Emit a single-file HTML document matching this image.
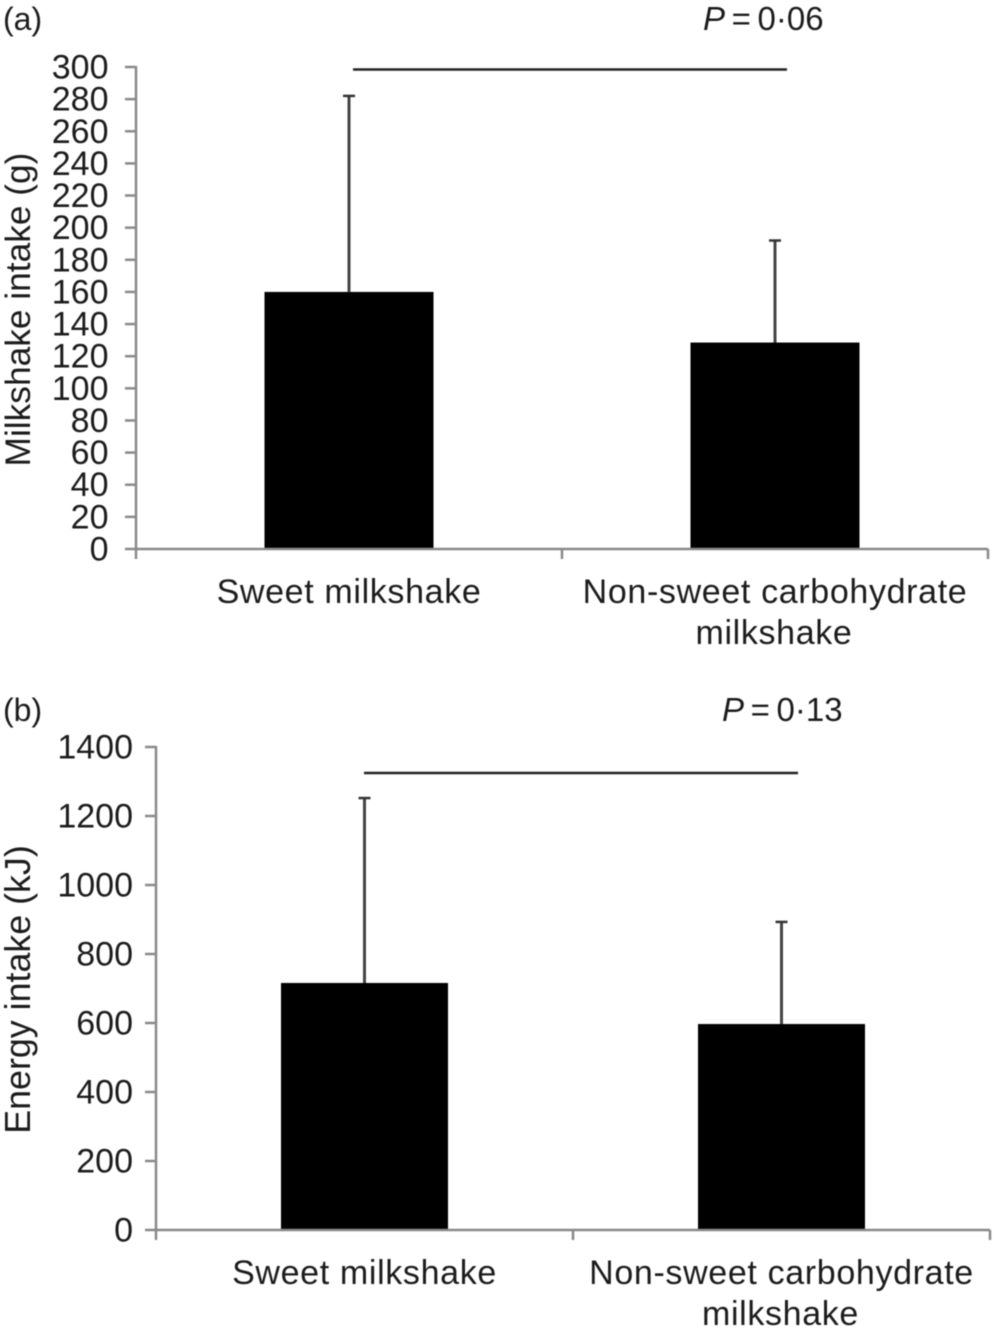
<!DOCTYPE html>
<html lang="en">
<head>
<meta charset="utf-8">
<title>Milkshake and energy intake</title>
<style>
html,body{margin:0;padding:0;background:#fff;width:996px;height:1329px;overflow:hidden}
svg{display:block;filter:blur(0.55px)}
text{font-family:"Liberation Sans",sans-serif;fill:#1c1c1c}
</style>
</head>
<body>
<svg id="figure" width="996" height="1329" viewBox="0 0 996 1329" xmlns="http://www.w3.org/2000/svg"></svg>
<script>
const categoryFirstLines = ['Sweet milkshake', 'Non-sweet carbohydrate'];
const categorySecondLines = ['', 'milkshake'];
const intakeMeans = [160, 128.5];
const intakeErrorTops = [282, 192];
const intakeTicks = [0, 20, 40, 60, 80, 100, 120, 140, 160, 180, 200, 220, 240, 260, 280, 300];
const energyMeans = [716, 597];
const energyErrorTops = [1252, 893];
const energyTicks = [0, 200, 400, 600, 800, 1000, 1200, 1400];

const svg = document.getElementById('figure');
const NS = 'http://www.w3.org/2000/svg';

function shape(tag, attrs, name) {
  const el = document.createElementNS(NS, tag);
  for (const k in attrs) el.setAttribute(k, attrs[k]);
  
  
  svg.appendChild(el);
  return el;
}
function label(str, x, y, size, anchor, name, extra) {
  const el = shape('text', Object.assign({x: x, y: y, 'font-size': size, 'text-anchor': anchor}, extra || {}), name);
  el.textContent = str;
  return el;
}
function rule(x1, y1, x2, y2, color, width, name) {
  return shape('line', {x1: x1, y1: y1, x2: x2, y2: y2, stroke: color, 'stroke-width': width}, name);
}

function drawPanel(p) {
  const yMax = p.ticks[p.ticks.length - 1];
  const yScale = v => p.y0 - (v / yMax) * (p.y0 - p.yTop);
  const bandW = (p.xRight - p.xLeft) / p.means.length;
  const xCenter = i => p.xLeft + bandW * (i + 0.5);

  p.means.forEach((m, i) => {
    const c = xCenter(i);
    rule(c, yScale(m), c, yScale(p.errors[i]), '#444', 3, p.id + '-error-bar-' + (i + 1));
    rule(c - 6, yScale(p.errors[i]), c + 6, yScale(p.errors[i]), '#333', 2.5, p.id + '-error-cap-' + (i + 1));
    shape('rect', {x: c - p.barW / 2, y: yScale(m), width: p.barW, height: p.y0 - yScale(m), fill: '#000'}, p.id + '-bar-' + (i + 1));
  });

  rule(p.xLeft, p.yTop - 1, p.xLeft, p.y0 + 1, '#8a8a8a', 2.5, p.id + '-y-axis');
  rule(p.xLeft, p.y0, p.xRight, p.y0, '#8a8a8a', 2.5, p.id + '-x-axis');

  p.ticks.forEach(t => {
    rule(p.xLeft - 11, yScale(t), p.xLeft, yScale(t), '#8a8a8a', 2.5, p.id + '-y-tick-' + t);
    label(String(t), p.tickLabelX, yScale(t) + 11.5, 34, 'end', p.id + '-y-tick-label-' + t);
  });
  for (let i = 0; i <= p.means.length; i++) {
    const x = p.xLeft + bandW * i;
    rule(x, p.y0, x, p.y0 + 10, '#8a8a8a', 2.5, p.id + '-x-tick-' + i);
  }

  categoryFirstLines.forEach((line, i) => {
    label(line, xCenter(i), p.catY1, p.catSize, 'middle', p.id + '-category-label-' + (i + 1), {'letter-spacing': '0.65'});
    if (categorySecondLines[i]) {
      label(categorySecondLines[i], xCenter(i) - 1, p.catY2, p.catSize, 'middle', p.id + '-category-label-' + (i + 1) + '-line-2', {'letter-spacing': '0.65'});
    }
  });

  const yTitle = label(p.yTitle, 0, 0, p.yTitleSize, 'middle', p.id + '-y-axis-title');
  yTitle.setAttribute('transform', 'translate(' + p.yTitleX + ' ' + p.yTitleY + ') rotate(-90)');

  label(p.letter, 3, p.pY, 32, 'start', p.id + '-panel-letter');

  const pVal = shape('text', {x: p.pX, y: p.pY, 'font-size': 33}, p.id + '-p-value');
  const italicP = document.createElementNS(NS, 'tspan');
  italicP.setAttribute('font-style', 'italic');
  
  
  italicP.textContent = 'P';
  pVal.appendChild(italicP);
  pVal.appendChild(document.createTextNode('\u2009=\u20090\u00B7' + p.pDigits));

  rule(p.sigX1, p.sigY, p.sigX2, p.sigY, '#222', 2.5, p.id + '-significance-line');
}

drawPanel({
  id: 'panel-a', letter: '(a)', yTitle: 'Milkshake intake (g)',
  means: intakeMeans, errors: intakeErrorTops, ticks: intakeTicks,
  xLeft: 136, xRight: 988, y0: 549, yTop: 67, barW: 169, tickLabelX: 108.5,
  catY1: 603, catY2: 644, catSize: 34, yTitleSize: 35.3, yTitleX: 30, yTitleY: 309.5,
  pX: 703, pY: 30, pDigits: '06', sigX1: 353, sigX2: 787, sigY: 69.5
});
drawPanel({
  id: 'panel-b', letter: '(b)', yTitle: 'Energy intake (kJ)',
  means: energyMeans, errors: energyErrorTops, ticks: energyTicks,
  xLeft: 156, xRight: 990, y0: 1230, yTop: 747, barW: 167, tickLabelX: 133,
  catY1: 1284, catY2: 1325, catSize: 34, yTitleSize: 35.8, yTitleX: 30, yTitleY: 989.5,
  pX: 722, pY: 721, pDigits: '13', sigX1: 364, sigX2: 798, sigY: 773
});
</script>
</body>
</html>
